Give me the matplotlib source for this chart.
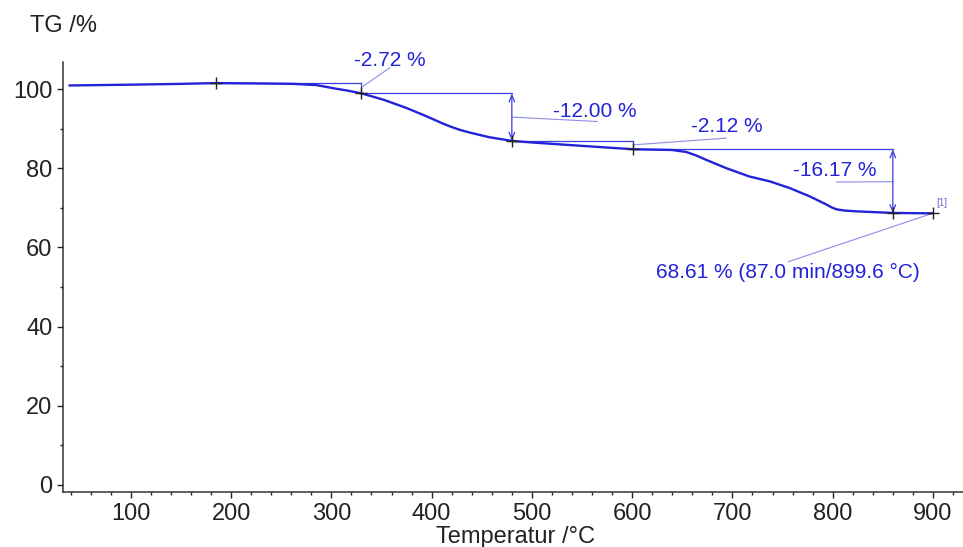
import matplotlib
matplotlib.use("Agg")
import matplotlib.pyplot as plt
from matplotlib.ticker import MultipleLocator

plt.rcParams['font.family'] = ['Liberation Sans', 'DejaVu Sans']

# TG curve
temp = [39, 100, 150, 185, 230, 262, 285, 302, 316, 330, 352, 375, 395, 411,
        420, 428, 438, 448, 458, 468, 480, 500, 535, 570, 601, 620, 640, 654,
        664, 674, 694, 717, 737, 757, 777, 794, 799, 804, 812, 824, 860, 899.6]
tg = [100.9, 101.1, 101.3, 101.5, 101.4, 101.3, 101.0, 100.2, 99.6, 98.9,
      97.3, 95.2, 93.1, 91.3, 90.4, 89.7, 89.0, 88.4, 87.8, 87.4, 86.9, 86.5,
      85.9, 85.3, 84.8, 84.7, 84.6, 84.1, 83.2, 82.1, 80.0, 77.9, 76.7, 75.0,
      72.9, 70.8, 70.1, 69.6, 69.3, 69.1, 68.7, 68.6]

# mass steps (evaluation points)
step_t = [185, 330, 480, 601, 860]
step_tg = [101.5, 98.9, 86.9, 84.8, 68.6]
step_labels = ["-2.72 %", "-12.00 %", "-2.12 %", "-16.17 %"]

end_t = 899.6
end_tg = 68.61
end_label = "68.61 % (87.0 min/899.6 °C)"

xticks = [100, 200, 300, 400, 500, 600, 700, 800, 900]
yticks = [0, 20, 40, 60, 80, 100]

blue = '#2222d8'
bracket_c = '#3c3ce0'
leader_c = '#8c8ce6'

fig = plt.figure(figsize=(9.63, 5.47), dpi=100)
ax = fig.add_axes([0.0651, 0.1011, 0.9349, 0.7861])

ax.plot(temp, tg, color=blue, lw=1.7, zorder=3, solid_joinstyle='round')

# brackets for each step
for i in range(len(step_labels)):
    ta, tb = step_t[i], step_t[i + 1]
    ma, mb = step_tg[i], step_tg[i + 1]
    ax.plot([ta, tb], [ma, ma], color=bracket_c, lw=0.9, zorder=2)
    if abs(ma - mb) > 5:
        ax.annotate("", xy=(tb, mb), xytext=(tb, ma),
                    arrowprops=dict(arrowstyle='<->,head_length=0.5,head_width=0.2',
                                    color=bracket_c, lw=0.9, shrinkA=0, shrinkB=0))
    else:
        ax.plot([tb, tb], [ma, mb], color=bracket_c, lw=0.9, zorder=2)

# '+' markers
ax.plot(step_t + [end_t], step_tg + [end_tg], ls='none', marker='+',
        ms=9, mew=1.0, color='#222222', zorder=4)

# step labels: text centre and leader line
text_pos = [(358, 107.3), (563, 94.4), (694, 90.6), (802, 79.4)]
lead = [((331, 100.6), (358, 105.3)),
        ((481, 92.9), (565, 91.8)),
        ((601, 85.9), (694, 87.6)),
        ((804, 76.5), (860, 76.6))]
for lab, (tx, ty), (p0, p1) in zip(step_labels, text_pos, lead):
    ax.text(tx, ty, lab, color=blue, fontsize=15, ha='center', va='center',
            clip_on=False)
    ax.plot([p0[0], p1[0]], [p0[1], p1[1]], color=leader_c, lw=0.8,
            clip_on=False)

ax.plot([end_t, 756], [end_tg, 56.4], color=leader_c, lw=0.8)
ax.text(755, 53.6, end_label, color=blue, fontsize=15, ha='center', va='center')
ax.text(909, 71.3, "[1]", color='#6a6ad0', fontsize=7, ha='center', va='center')

ax.set_xlim(32, 930)
ax.set_ylim(-1.7, 106.9)
ax.set_xticks(xticks)
ax.set_yticks(yticks)
ax.xaxis.set_minor_locator(MultipleLocator(20))
ax.yaxis.set_minor_locator(MultipleLocator(10))
ax.tick_params(which='major', length=4.5, width=1, labelsize=17, pad=3,
               colors='#222222')
ax.tick_params(which='minor', length=2.5, width=1, colors='#222222')
ax.tick_params(axis='x', which='major', pad=3.5)

for s in ['top', 'right']:
    ax.spines[s].set_visible(False)
for s in ['left', 'bottom']:
    ax.spines[s].set_linewidth(1.1)
    ax.spines[s].set_color('#333333')

fig.text(30 / 963, 1 - 32 / 547, "TG /%", fontsize=17, color='#222222',
         ha='left', va='baseline')
fig.text(516 / 963, 1 - 543 / 547, "Temperatur /°C", fontsize=17,
         color='#222222', ha='center', va='baseline')

fig.savefig("out.png", dpi=100)
